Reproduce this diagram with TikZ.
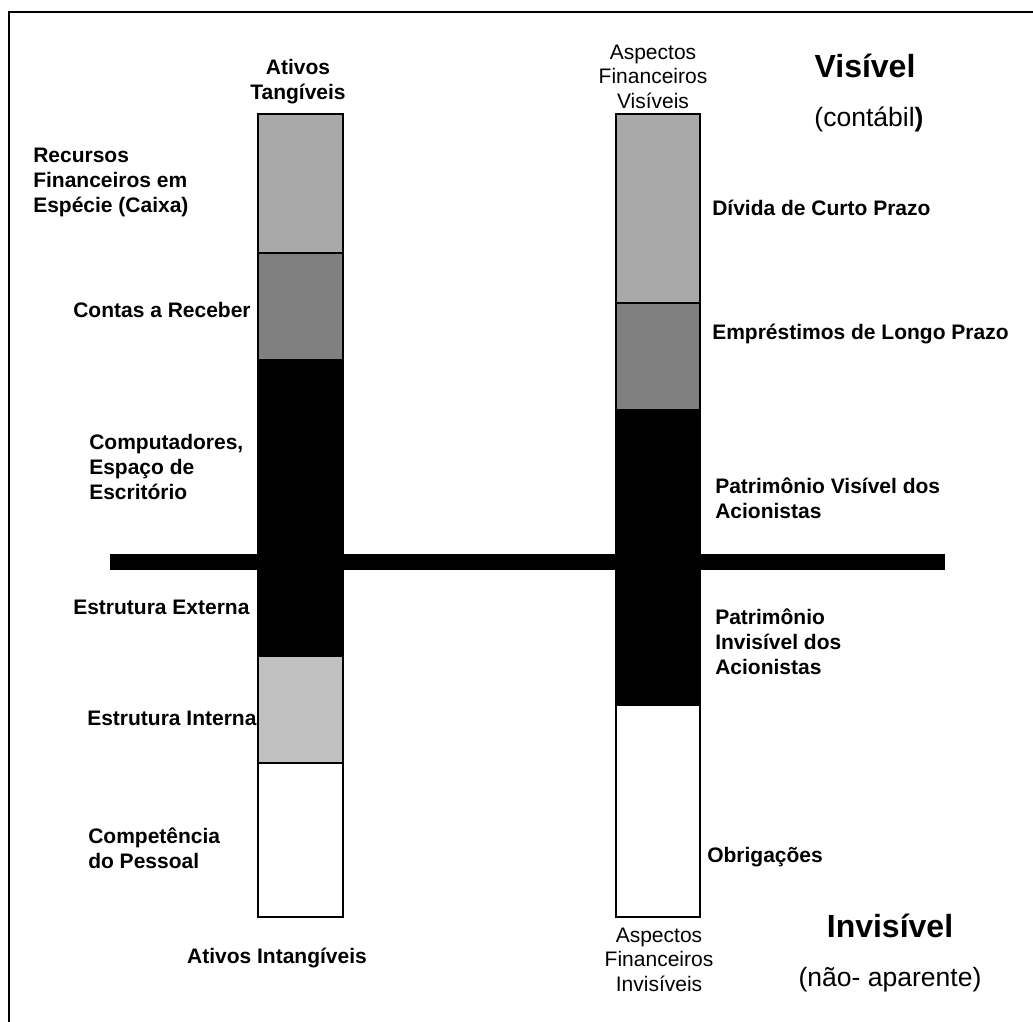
\documentclass[tikz,border=0pt]{standalone}
\usepackage{fontspec}
\setmainfont{Liberation Sans}
\definecolor{cashgray}{HTML}{A9A9A9}
\definecolor{midgray}{HTML}{808080}
\definecolor{softgray}{HTML}{C0C0C0}
\begin{document}
% multi-line labels are placed by the baseline of their last line
\begin{tikzpicture}[x=0.75pt,y=-0.75pt,
  lbl/.style={font=\fontsize{15.75}{18.75}\selectfont\bfseries, inner sep=0pt, align=left},
  head/.style={font=\fontsize{15.75}{18.75}\selectfont\bfseries, inner sep=0pt, align=center},
  side/.style={font=\fontsize{15.75}{18.2}\selectfont, inner sep=0pt, align=center},
  big/.style={font=\fontsize{24}{28}\selectfont\bfseries, inner sep=0pt},
  note/.style={font=\fontsize{19.9}{24}\selectfont, inner sep=0pt},
  seg/.style={draw=black, line width=0.9pt}]
\useasboundingbox (0,0) rectangle (1033,1022);

% frame
\draw[line width=1.5pt] (9,1022) -- (9,12) -- (1033,12);

% left column: assets
\filldraw[seg, fill=cashgray] (258,114) rectangle (343,253);
\filldraw[seg, fill=midgray]  (258,253) rectangle (343,360);
\filldraw[seg, fill=black]    (258,360) rectangle (343,656);
\filldraw[seg, fill=softgray] (258,656) rectangle (343,763);
\filldraw[seg, fill=white]    (258,763) rectangle (343,917);

% right column: financing
\filldraw[seg, fill=cashgray] (616,114) rectangle (700,303);
\filldraw[seg, fill=midgray]  (616,303) rectangle (700,410);
\filldraw[seg, fill=black]    (616,410) rectangle (700,705);
\filldraw[seg, fill=white]    (616,705) rectangle (700,917);

% waterline between visible and invisible
\fill[black] (110,554) rectangle (945,570);

% left labels
\node[head, anchor=base] (tang) at (298,99) {Ativos\\Tangíveis};
\node[lbl, anchor=base west] (caixa) at (33,212) {Recursos\\Financeiros em\\Espécie (Caixa)};
\node[lbl, anchor=base west] (receber) at (73,317) {Contas a Receber};
\node[lbl, anchor=base west] (comp) at (89,499) {Computadores,\\Espaço de\\Escritório};
\node[lbl, anchor=base west] (ext) at (73,614) {Estrutura Externa};
\node[lbl, anchor=base west] (int) at (87,725) {Estrutura Interna};
\node[lbl, anchor=base west] (pess) at (88,868) {Competência\\do Pessoal};
\node[head, anchor=base] (intang) at (277,963) {Ativos Intangíveis};

% right labels
\node[side, anchor=base] (afv) at (653,108) {Aspectos\\Financeiros\\Visíveis};
\node[lbl, anchor=base west] (curto) at (712,215) {Dívida de Curto Prazo};
\node[lbl, anchor=base west] (longo) at (712,339) {Empréstimos de Longo Prazo};
\node[lbl, anchor=base west] (patv) at (715,518) {Patrimônio Visível dos\\Acionistas};
\node[lbl, anchor=base west, font=\fontsize{15.75}{18.4}\selectfont\bfseries] (pati) at (715,674) {Patrimônio\\Invisível dos\\Acionistas};
\node[lbl, anchor=base west] (obr) at (707,862) {Obrigações};
\node[side, anchor=base] (afi) at (659,991) {Aspectos\\Financeiros\\Invisíveis};

% visible / invisible captions
\node[big, anchor=base] (vis) at (865,77) {Visível};
\node[note, anchor=base] (cont) at (869,126) {(contábil\textbf{)}};
\node[big, anchor=base] (invis) at (890,937) {Invisível};
\node[note, anchor=base] (naoap) at (890,986) {(não- aparente)};
\end{tikzpicture}
\end{document}
